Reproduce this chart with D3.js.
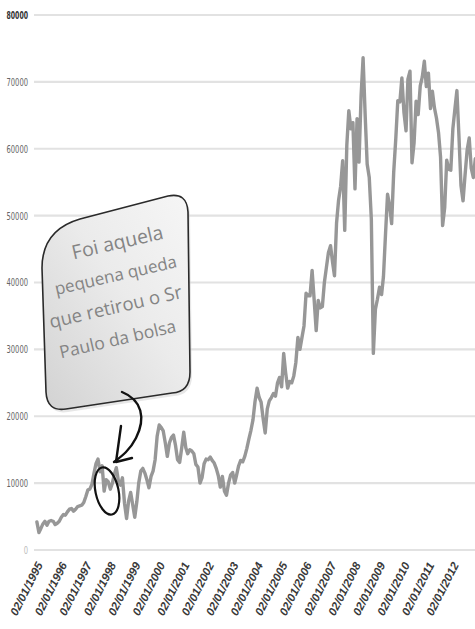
<!DOCTYPE html>
<html><head><meta charset="utf-8">
<script src="https://cdn.jsdelivr.net/npm/d3@7"></script>
<style>html,body{margin:0;padding:0;background:#fff;overflow:hidden}</style>
</head><body>
<svg id="c" width="475" height="629"></svg>
<script>
// ---- data (Ibovespa, monthly) ----
const startYear = 1995;
const values = [
  4200, 2600, 3200, 3900, 4300, 3700, 4300, 4400, 4300, 3800, 4000, 4300,          // 1995
  4900, 5300, 5200, 5700, 6100, 6200, 5800, 6100, 6500, 6600, 6700, 7100,          // 1996
  8000, 9000, 9100, 9800, 11400, 12900, 13600, 11700, 12600, 8800, 10500, 10200,   // 1997
  9100, 10000, 11300, 12300, 10400, 9700, 10800, 7000, 4700, 7300, 8600, 6800,     // 1998
  4900, 7200, 10000, 11800, 12200, 11500, 10500, 9300, 11000, 11800, 13500, 17000, // 1999
  18700, 18300, 17800, 16000, 14000, 16000, 16800, 17200, 15600, 13500, 13100, 15200, // 2000
  17600, 15300, 14400, 15000, 14800, 14400, 12800, 12400, 10000, 10800, 12900, 13600, // 2001
  13500, 13900, 13400, 13000, 12200, 11100, 9400, 11000, 8800, 8200, 10000, 11200,    // 2002
  11600, 10000, 11200, 12600, 13400, 13200, 14000, 15200, 16600, 17900, 19500, 22200, // 2003
  24200, 22800, 22100, 19600, 17500, 21100, 22300, 22800, 23400, 23000, 25000, 25800, // 2004
  24400, 29400, 26600, 24200, 25200, 25000, 26000, 28000, 31800, 30000, 31800, 33500, // 2005
  38400, 38000, 38000, 41800, 37500, 32800, 37300, 36200, 36400, 40000, 42300, 44500, // 2006
  45500, 43000, 41000, 48900, 52300, 54400, 58200, 47800, 60500, 65700, 63000, 63900, // 2007
  54000, 64500, 58000, 67900, 73600, 65000, 57700, 55700, 49500, 29400, 36000, 37500, // 2008
  39300, 38200, 40900, 47300, 53200, 51500, 48800, 56500, 61500, 67200, 67000, 70600, // 2009
  65400, 62700, 70400, 71600, 57900, 60900, 67100, 65100, 69400, 70700, 73100, 69300, // 2010
  71300, 66000, 68600, 66100, 64600, 62400, 58800, 48500, 51200, 58300, 56900, 56800, // 2011
  63000, 66000, 68700, 61800, 54500, 52200, 56100, 59800, 61600, 57100, 55700, 58500  // 2012
];
const yTicks = [0, 10000, 20000, 30000, 40000, 50000, 60000, 70000, 80000];
const tickLabels = ["02/01/1995","02/01/1996","02/01/1997","02/01/1998","02/01/1999","02/01/2000",
  "02/01/2001","02/01/2002","02/01/2003","02/01/2004","02/01/2005","02/01/2006","02/01/2007",
  "02/01/2008","02/01/2009","02/01/2010","02/01/2011","02/01/2012"];
const bubbleLines = ["Foi aquela", "pequena queda", "que retirou o Sr", "Paulo da bolsa"];

const data = values.map((v, i) => ({date: new Date(startYear, i, 15), value: v}));
const tickDates = tickLabels.map(s => { const p = s.split("/"); return new Date(+p[2], +p[1]-1, +p[0]); });

const svg = d3.select("#c");
const x = d3.scaleTime().domain([tickDates[0], tickDates[tickDates.length-1]]).range([36, 452]);
const y = d3.scaleLinear().domain([0, 80000]).range([550, 15]);

// grid
svg.append("g").selectAll("line").data(yTicks).join("line")
  .attr("x1", 34).attr("x2", 475)
  .attr("y1", d => y(d)).attr("y2", d => y(d))
  .attr("stroke", "#e2e2e2").attr("stroke-width", 2.2);

// y axis labels
const yAxis = d3.axisLeft(y).tickValues(yTicks).tickSize(0).tickPadding(0).tickFormat(d3.format("d"));
const gy = svg.append("g").attr("transform", "translate(28,0)").call(yAxis);
gy.select(".domain").remove();
gy.selectAll("text").attr("font-family", "'DejaVu Sans Condensed','DejaVu Sans',sans-serif")
  .attr("font-size", 10.5)
  .attr("textLength", d => String(d).length * 4.3).attr("lengthAdjust", "spacingAndGlyphs")
  .attr("fill", d => d === 80000 ? "#333" : (d === 0 ? "#bbb" : "#666"))
  .attr("font-weight", d => d === 80000 ? "bold" : "normal");

// x axis labels
const xAxis = d3.axisBottom(x).tickValues(tickDates).tickSize(0).tickFormat((d, i) => tickLabels[i]);
const gx = svg.append("g").attr("transform", "translate(0,563)").call(xAxis);
gx.select(".domain").remove();
gx.selectAll("text")
  .attr("font-family", "'Liberation Sans',Arial,sans-serif").attr("font-size", 11.5)
  .attr("textLength", 58).attr("lengthAdjust", "spacingAndGlyphs")
  .attr("font-weight", "bold").attr("font-style", "italic").attr("fill", "#3a3a3a")
  .attr("text-anchor", "end").attr("dy", "0.35em").attr("y", 0)
  .attr("transform", "translate(3,0) rotate(-63)");

// line
const line = d3.line().x(d => x(d.date)).y(d => y(d.value));
svg.append("path").datum(data).attr("d", line)
  .attr("fill", "none").attr("stroke", "#979797").attr("stroke-width", 3.4)
  .attr("stroke-linejoin", "round").attr("stroke-linecap", "round");

// speech bubble
const defs = svg.append("defs");
const grad = defs.append("linearGradient").attr("id", "bg").attr("x1", "0").attr("y1", "1").attr("x2", "1").attr("y2", "0");
grad.append("stop").attr("offset", "0").attr("stop-color", "#d2d2d2");
grad.append("stop").attr("offset", "0.55").attr("stop-color", "#ebebeb");
grad.append("stop").attr("offset", "1").attr("stop-color", "#f6f6f6");

const bubble = "M42,268 Q42,230 80,219 L168,196 Q187,192 188,212 L190,372 Q190,392 172,393 L66,409 Q47,412 46,392 Z";
svg.append("path").attr("d", bubble).attr("transform", "translate(2,3)").attr("fill", "#cfcfcf").attr("opacity", 0.5);
svg.append("path").attr("d", bubble).attr("fill", "url(#bg)").attr("stroke", "#2a2a2a").attr("stroke-width", 1.6);

// bubble text, tilted
const centers = [[119, 249], [117, 281], [117, 313], [119, 345]];
const sizes = [19.5, 17, 18.5, 17.5];
svg.append("g").selectAll("g").data(bubbleLines).join("g")
  .attr("transform", (d, i) => `translate(${centers[i][0]},${centers[i][1]}) rotate(-13)`)
  .append("text")
  .attr("text-anchor", "middle")
  .attr("font-family", "'Open Sans',sans-serif").attr("font-size", (d, i) => sizes[i])
  .attr("fill", "#848484")
  .text(d => d);

// tail
svg.append("path")
  .attr("d", "M122,392 C142,400 146,418 136,438 C130,450 122,456 114,462")
  .attr("fill", "none").attr("stroke", "#111").attr("stroke-width", 2.4).attr("stroke-linecap", "round");
svg.append("path")
  .attr("d", "M121,426 L116,462 L132,458")
  .attr("fill", "none").attr("stroke", "#111").attr("stroke-width", 2.4).attr("stroke-linecap", "round").attr("stroke-linejoin", "round");

// circle highlight
svg.append("ellipse").attr("cx", 107).attr("cy", 491).attr("rx", 11.5).attr("ry", 24)
  .attr("transform", "rotate(-12,107,491)")
  .attr("fill", "none").attr("stroke", "#111").attr("stroke-width", 2.2);
</script>
</body></html>
